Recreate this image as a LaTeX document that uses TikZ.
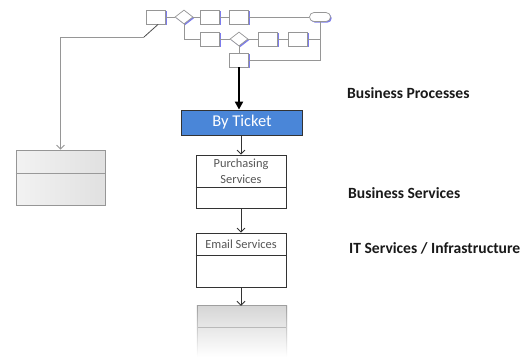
\documentclass[tikz,border=0pt]{standalone}
\usepackage{fontspec}
\setmainfont{Carlito}
\usetikzlibrary{arrows.meta,shapes.geometric,shadows}
\definecolor{tickblue}{RGB}{74,134,216}
\definecolor{labelgray}{RGB}{85,85,85}
\definecolor{linegray}{RGB}{150,150,150}
\definecolor{shadowblue}{RGB}{110,110,235}
\begin{document}
\begin{tikzpicture}[x=1pt,y=-1pt,
  blue shadow/.style={drop shadow={shadow xshift=1.2pt,shadow yshift=-1.2pt,fill=shadowblue,opacity=0.9}},
  proc/.style={draw=linegray,fill=white,line width=0.7pt,inner sep=0pt,
    minimum width=19pt,minimum height=14pt,blue shadow},
  gate/.style={diamond,draw=linegray,fill=white,line width=0.7pt,inner sep=0pt,
    minimum width=18pt,minimum height=14pt,blue shadow},
  term/.style={draw=linegray,fill=white,line width=0.7pt,inner sep=0pt,
    minimum width=21pt,minimum height=9pt,rounded corners=4.5pt,blue shadow},
  flow/.style={draw=linegray,line width=0.7pt},
  svc/.style={draw=black!80,fill=white,line width=0.8pt,inner sep=0pt,minimum width=90pt},
  link/.style={draw=black!80,line width=0.8pt,-{Straight Barb[length=4pt,width=8pt]}},
  layer/.style={anchor=west,inner sep=0pt,text=black!90,font=\bfseries\fontsize{15.6}{18}\selectfont},
  small/.style={text=labelgray,font=\fontsize{12.4}{16.5}\selectfont,align=center,inner sep=0pt}]
\useasboundingbox (0,0) rectangle (521,357);

% process flow at the top
\node[proc] (p1) at (156,17) {};
\node[gate] (g1) at (184,17) {};
\node[proc] (p2) at (210,17) {};
\node[proc] (p3) at (239,17) {};
\node[term] (end) at (320,17) {};
\node[proc] (p4) at (210,39) {};
\node[gate] (g2) at (239,39) {};
\node[proc] (p5) at (268,39) {};
\node[proc] (p6) at (298,39) {};
\node[proc] (p7) at (239,60) {};

\draw[flow] (p1) -- (g1);
\draw[flow] (g1) -- (p2);
\draw[flow] (p2) -- (p3);
\draw[flow] (p3) -- (end);
\draw[flow] (g1.south) |- (p4.west);
\draw[flow] (p4) -- (g2);
\draw[flow] (g2) -- (p5);
\draw[flow] (p5) -- (p6);
\draw[flow] (p6.east) -- (end.south |- p6.east);
\draw[flow] (end.south) |- (p7.east);
\draw[flow] (g2) -- (p7);

% link from the first step down to the left element
\node[draw=linegray,line width=0.8pt,left color=gray!10,right color=gray!24,
  minimum width=89pt,minimum height=55pt,inner sep=0pt] (side) at (60.5,177.5) {};
\draw[draw=gray!80,line width=0.8pt] (side.west |- 0,173) -- (side.east |- 0,173);
\coordinate (bend) at (144,37);
\draw[draw=black!70,line width=0.8pt] (p1.-74) -- (bend);
\draw[draw=linegray,line width=0.8pt,-{Straight Barb[length=4pt,width=8pt]}] (bend) -| (side.north);

% service stack
\node[draw=black!80,fill=tickblue,line width=0.8pt,minimum width=121pt,minimum height=25pt,
  inner sep=0pt,text=white,font=\fontsize{16.5}{18}\selectfont] (ticket) at (242,122.5) {By Ticket};
\draw[line width=2.2pt,-{Triangle[length=8pt,width=8pt]}] (p7.south) -- (p7.south |- ticket.north);

\node[svc,minimum height=53pt] (purch) at (241,181.5) {};
\draw[draw=black!80,line width=0.8pt] (purch.west |- 0,187) -- (purch.east |- 0,187);
\node[small] (purchtext) at (241,171) {Purchasing\\Services};

\node[svc,minimum height=54pt] (email) at (241,260) {};
\draw[draw=black!80,line width=0.8pt] (email.west |- 0,255) -- (email.east |- 0,255);
\node[small] (emailtext) at (241,244) {Email Services};

\node[top color=gray!32,bottom color=white,minimum width=90pt,minimum height=51pt,inner sep=0pt] (infra) at (242,331.5) {};
\draw[draw=gray!75,line width=0.8pt] (infra.north west) -- (infra.north east);
\draw[draw=gray!55,line width=0.8pt] (infra.west |- 0,327) -- (infra.east |- 0,327);
\shade[top color=gray!75,bottom color=white] (infra.north west) rectangle ++(0.8,51);
\shade[top color=gray!75,bottom color=white] (infra.north east) rectangle ++(-0.8,51);

\draw[link] (ticket.south -| purch.north) -- (purch.north);
\draw[link] (purch.south) -- (email.north);
\draw[link] (email.south) -- (infra.north -| email.south);

% layer captions
\node[layer] (lbp) at (347,93) {Business Processes};
\node[layer] (lbs) at (348,193) {Business Services};
\node[layer] (lit) at (349,248) {IT Services / Infrastructure};
\end{tikzpicture}
\end{document}
